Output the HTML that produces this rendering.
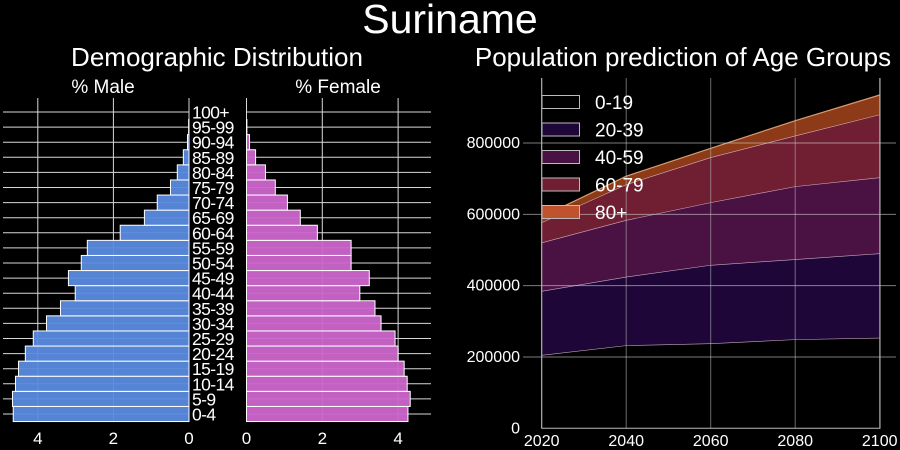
<!DOCTYPE html>
<html><head><meta charset="utf-8"><style>
html,body{margin:0;padding:0;background:#000;}
svg{display:block;font-family:"Liberation Sans",sans-serif;}
</style></head><body>
<svg id="c" width="900" height="450" viewBox="0 0 900 450">
<rect width="900" height="450" fill="#000"/>
<text x="450" y="33" font-size="41" fill="#fff" text-anchor="middle">Suriname</text>
<text x="217" y="66" font-size="26" fill="#fff" text-anchor="middle">Demographic Distribution</text>
<text x="683" y="66" font-size="26" fill="#fff" text-anchor="middle">Population prediction of Age Groups</text>
<text x="103" y="93" font-size="19" fill="#fff" text-anchor="middle">% Male</text>
<text x="338" y="93" font-size="19" fill="#fff" text-anchor="middle">% Female</text>
<g id="pyr"></g>
<g id="area"></g>
</svg>
<script>
const ageGroups=["0-4","5-9","10-14","15-19","20-24","25-29","30-34","35-39","40-44","45-49","50-54","55-59","60-64","65-69","70-74","75-79","80-84","85-89","90-94","95-99","100+"];
const maleVals=[4.65,4.67,4.59,4.51,4.33,4.12,3.77,3.40,3.01,3.19,2.85,2.69,1.82,1.18,0.84,0.49,0.31,0.15,0.04,0.01,0];
const femaleVals=[4.26,4.32,4.24,4.16,4.0,3.92,3.55,3.39,2.99,3.24,2.76,2.76,1.87,1.42,1.08,0.76,0.5,0.24,0.08,0.01,0];
const pyrTicks=[0,2,4];

const years=[2020,2040,2060,2080,2100];
const g0_19=[205600,232700,238000,249500,254000];
const g20_39=[179400,192300,220000,224500,236600];
const g40_59=[136000,159000,175600,204500,213100];
const g60_79=[56600,100000,126400,142100,176300];
const g80p=[15400,23000,25000,42000,54600];
const groupNames=["0-19","20-39","40-59","60-79","80+"];
const yTicks=[0,200000,400000,600000,800000];
const xTicks=[2020,2040,2060,2080,2100];

const NS="http://www.w3.org/2000/svg";
function mk(tag,attrs,parent){const e=document.createElementNS(NS,tag);for(const k in attrs)e.setAttribute(k,attrs[k]);parent.appendChild(e);return e;}

// Pyramid
const pyr=document.getElementById('pyr');
const mx=v=>189-v*37.8, fx=v=>246.5+v*37.9;
const ry=i=>414-i*15.1;
const grid="#d8d8d8";
pyrTicks.forEach(t=>{
  let l=mk('line',{x1:mx(t),x2:mx(t),y1:98,y2:422,stroke:grid,'stroke-width':1},pyr);
  
  
  let tx=mk('text',{x:mx(t),y:444,'font-size':17,fill:'#fff','text-anchor':'middle'},pyr);tx.textContent=t;
  
  
  let l2=mk('line',{x1:fx(t),x2:fx(t),y1:98,y2:422,stroke:grid,'stroke-width':1},pyr);
  
  
  let tx2=mk('text',{x:fx(t),y:444,'font-size':17,fill:'#fff','text-anchor':'middle'},pyr);tx2.textContent=t;
  
  
});
ageGroups.forEach((g,i)=>{
  const y=ry(i);
  let h1=mk('line',{x1:3,x2:189,y1:y,y2:y,stroke:grid,'stroke-width':1},pyr);
  
  
  let h2=mk('line',{x1:246,x2:431,y1:y,y2:y,stroke:grid,'stroke-width':1},pyr);
  
  
});
ageGroups.forEach((g,i)=>{
  const y=ry(i);
  if(maleVals[i]>0){
    let b=mk('rect',{x:mx(maleVals[i]),y:y-7.55,width:maleVals[i]*37.8,height:15.1,fill:'#5b8be0','fill-opacity':0.95,stroke:'#fff','stroke-width':1},pyr);
    
    
  }
  if(femaleVals[i]>0){
    let b=mk('rect',{x:246.5,y:y-7.55,width:femaleVals[i]*37.9,height:15.1,fill:'#cc66cc','fill-opacity':0.95,stroke:'#fff','stroke-width':1},pyr);
    
    
  }
  let t=mk('text',{x:192,y:y+6.5,'font-size':17.5,fill:'#fff','letter-spacing':-0.6},pyr);t.textContent=g;
  
  
});

// Area chart
const area=document.getElementById('area');
const X=yr=>541.7+(yr-2020)/80*338;
const Y=v=>428.3-v/800000*285.3;
const series=[g0_19,g20_39,g40_59,g60_79,g80p];
const fills=['#000000','#1e0638','#4a1242','#701f33','#8c3a17'];
const legFills=['#000000','#1e0638','#4a1242','#701f33','#c0522e'];
let base=years.map(()=>0);
series.forEach((s,k)=>{
  const top=base.map((b,i)=>b+s[i]);
  let d='M'+years.map((yr,i)=>X(yr)+','+Y(top[i])).join(' L');
  d+=' L'+years.slice().reverse().map((yr,j)=>X(yr)+','+Y(base[years.length-1-j])).join(' L')+' Z';
  let p=mk('path',{d:d,fill:fills[k],'fill-opacity':1},area);
  
  
  let ln=mk('polyline',{points:years.map((yr,i)=>X(yr)+','+Y(top[i])).join(' '),fill:'none',stroke:k===4?'#f0b080':'#e8c8d8','stroke-width':1.2,'stroke-opacity':0.85},area);
  
  
  base=top;
});
xTicks.forEach(t=>{
  let l=mk('line',{x1:X(t),x2:X(t),y1:78,y2:428,stroke:'#b0b0b0','stroke-width':1,'stroke-opacity':0.6},area);
  
  
  let tx=mk('text',{x:X(t),y:446,'font-size':16,fill:'#fff','text-anchor':'middle'},area);tx.textContent=t;
  
  
});
yTicks.forEach(t=>{
  if(t>0){let l=mk('line',{x1:523,x2:896,y1:Y(t),y2:Y(t),stroke:'#d0d0d0','stroke-width':1,'stroke-opacity':0.6},area);
  
  }
  let tx=mk('text',{x:520,y:Y(t)+5,'font-size':16,fill:'#fff','text-anchor':'end'},area);tx.textContent=t;
  
  
});
let sp=mk('path',{d:'M541.7,78 L541.7,428.3 L880,428.3 L880,78',fill:'none',stroke:'#bbb','stroke-width':1},area);


groupNames.forEach((g,k)=>{
  const cy=102+k*27.5;
  let r=mk('rect',{x:542,y:cy-6.5,width:37.5,height:13,fill:legFills[k],stroke:'#bbb','stroke-width':1},area);
  
  
  let t=mk('text',{x:595,y:cy+7,'font-size':19,fill:'#fff'},area);t.textContent=g;
  
  
});
</script>
</body></html>
